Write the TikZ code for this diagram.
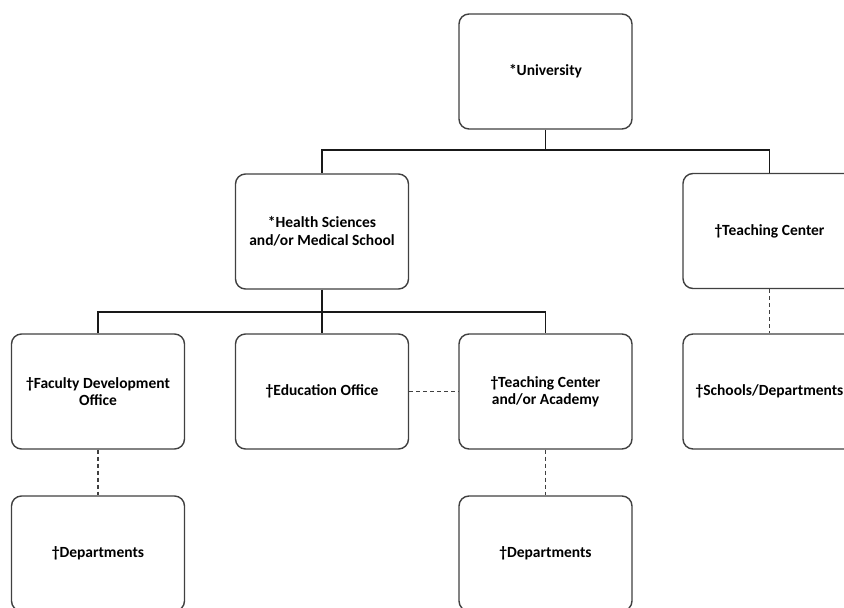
\documentclass[tikz,border=0pt]{standalone}
\usepackage{fontspec}
\setmainfont{Carlito}
\begin{document}
\begin{tikzpicture}[x=1pt,y=-1pt,
  box/.style={draw=black!75, line width=1.4pt, rounded corners=10pt, fill=white,
    minimum width=173pt, minimum height=115pt, align=center,
    font=\fontsize{15.5}{17.5}\selectfont\bfseries, inner sep=2pt},
  conn/.style={draw=black!90, line width=1.4pt},
  dconn/.style={draw=black!75, line width=1.2pt, dash pattern=on 4pt off 3pt}]
\useasboundingbox (0,0) rectangle (844,608);
\clip (0,0) rectangle (844,608);
\node[box] (uni) at (545.5,71.5) {*University};
\node[box] (health) at (322,231.5) {*Health Sciences\\and/or Medical School};
\node[box] (tc) at (769.5,231) {†Teaching Center};
\node[box] (fdo) at (98,391.5) {†Faculty Development\\Office};
\node[box] (edu) at (322,391.5) {†Education Office};
\node[box] (tca) at (545.5,391.5) {†Teaching Center\\and/or Academy};
\node[box] (sd) at (769.5,391.5) {†Schools/Departments};
\node[box] (dep1) at (98,553.5) {†Departments};
\node[box] (dep2) at (545.5,553.5) {†Departments};
\coordinate (j1) at (545.5,150);
\coordinate (j2) at (322,312);
\draw[conn] (uni.south) -- (j1);
\draw[conn] (j1) -| (health.north);
\draw[conn] (j1) -| (tc.north);
\draw[conn] (health.south) -- (j2);
\draw[conn] (j2) -| (fdo.north);
\draw[conn] (j2) -| (tca.north);
\draw[conn] (j2) -- (edu.north);
\draw[dconn] (fdo.south) -- (dep1.north);
\draw[dconn] (tca.south) -- (dep2.north);
\draw[dconn] (tc.south) -- (sd.north);
\draw[dconn] (edu.east) -- (tca.west);
\end{tikzpicture}
\end{document}
